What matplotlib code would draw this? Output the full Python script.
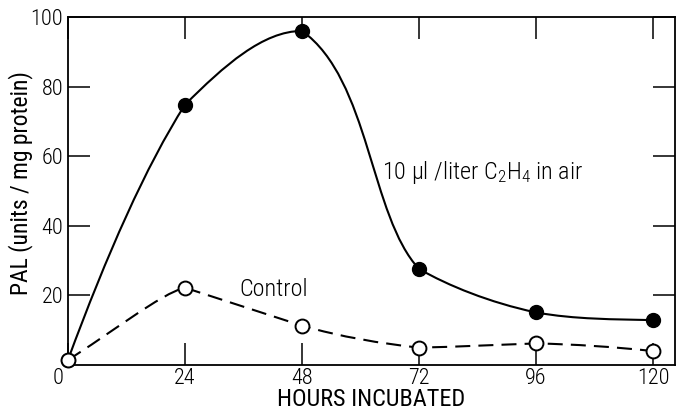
import numpy as np
import matplotlib.pyplot as plt
from matplotlib.path import Path
from matplotlib.patches import PathPatch
from matplotlib.transforms import ScaledTranslation

# Values
hours = [0, 24, 48, 72, 96, 120]
ethylene = [1.5, 74.8, 96.0, 27.6, 15.1, 12.9]
control = [1.5, 22.2, 11.3, 5.0, 6.2, 4.0]

x_ticks = [0, 24, 48, 72, 96, 120]
y_ticks = [20, 40, 60, 80, 100]

# shape of the hand-drawn curves: slope entering / leaving each point,
# and handle reach (fraction of segment width) at both ends of each segment
eth_slope_in = [0, 2.2, 0.0, -1.5, -0.3, -0.03]
eth_slope_out = [3.8, 1.4, -1.0, -0.8, -0.25, 0]
eth_reach = [(1/3, 1/3), (1/3, 1/3), (0.58, 0.42), (0.25, 0.4), (1/3, 1/3)]

ctl_slope_in = [0, 0.3, -0.45, -0.15, 0.05, -0.15]
ctl_slope_out = [0.85, -0.45, -0.4, 0.03, -0.03, 0]
ctl_reach = [(1/3, 0.2), (1/3, 1/3), (1/3, 1/3), (1/3, 1/3), (1/3, 1/3)]


def smooth_path(x, y, s_in, s_out, reach):
    verts = [(x[0], y[0])]
    codes = [Path.MOVETO]
    for i in range(len(x) - 1):
        dx = x[i + 1] - x[i]
        a = reach[i][0] * dx
        b = reach[i][1] * dx
        verts += [(x[i] + a, y[i] + s_out[i] * a),
                  (x[i + 1] - b, y[i + 1] - s_in[i + 1] * b),
                  (x[i + 1], y[i + 1])]
        codes += [Path.CURVE4] * 3
    return Path(verts, codes)


plt.rcParams['font.family'] = ['Roboto Condensed', 'DejaVu Sans']
plt.rcParams['font.weight'] = 'light'
plt.rcParams['font.size'] = 16

fig = plt.figure(figsize=(6.78, 4.11), dpi=100)
ax = fig.add_axes([0.1003, 0.1119, 0.8953, 0.8467])

ax.add_patch(PathPatch(smooth_path(hours, ethylene, eth_slope_in, eth_slope_out, eth_reach),
                       fill=False, lw=1.5, color='black'))
ax.add_patch(PathPatch(smooth_path(hours, control, ctl_slope_in, ctl_slope_out, ctl_reach),
                       fill=False, lw=1.5, color='black', linestyle=(0, (7.2, 3.9))))

ax.plot(hours, ethylene, 'o', color='black', ms=10, clip_on=False, zorder=3)
ax.plot(hours, control, 'o', mfc='white', mec='black', mew=1.4, ms=10, clip_on=False, zorder=4)

ax.text(64.4, 55.3, r'10 µl /liter C$\mathregular{_2}$H$\mathregular{_4}$ in air',
        va='center', ha='left', fontsize=17.5)
ax.text(35.1, 21.6, 'Control', va='center', ha='left', fontsize=17.5)

ax.set_xlim(0, 124.5)
ax.set_ylim(0, 100)
ax.set_xticks(x_ticks)
ax.set_yticks(y_ticks)
ax.tick_params(direction='in', length=16, width=1.1, top=True, right=True)
ax.tick_params(axis='x', pad=2)
ax.tick_params(axis='y', pad=3.5)
for sp in ax.spines.values():
    sp.set_linewidth(1.3)

# the "0" under the origin sits a little left of its tick
lab0 = ax.get_xticklabels()[0]
lab0.set_transform(lab0.get_transform() + ScaledTranslation(-0.1, 0, fig.dpi_scale_trans))

ax.set_xlabel('HOURS INCUBATED', fontsize=17.5)
ax.set_ylabel('PAL (units / mg protein)', fontsize=17)
ax.xaxis.set_label_coords(0.5, -0.066)
ax.yaxis.set_label_coords(-0.057, 0.524)

fig.savefig('out.png', dpi=100)
